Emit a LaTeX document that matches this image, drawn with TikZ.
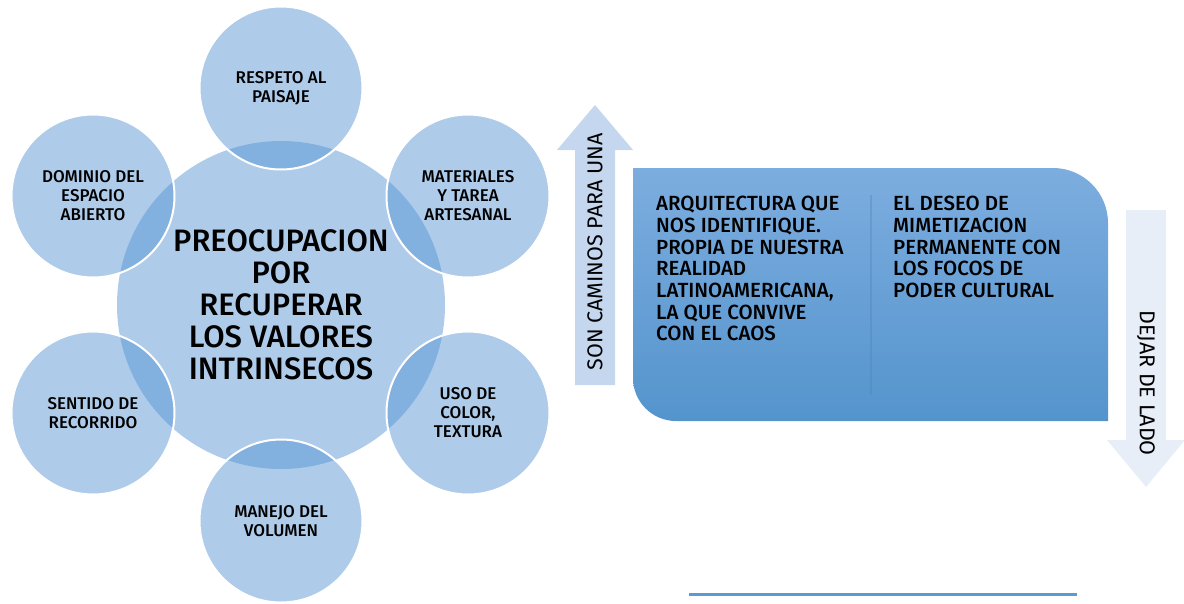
\documentclass[tikz,border=0pt]{standalone}
\usepackage{fontspec}
\setmainfont{Fira Sans}[UprightFont={* Medium}]
\newfontfamily\arrowfont{Fira Sans}
\usetikzlibrary{positioning}
\definecolor{petalblue}{RGB}{82,145,210}
\definecolor{uparrow}{RGB}{197,215,238}
\definecolor{downarrow}{RGB}{232,238,247}
\definecolor{boxtop}{RGB}{125,173,223}
\definecolor{boxmid}{RGB}{98,162,220}
\definecolor{boxbot}{RGB}{84,148,205}
\definecolor{rule}{RGB}{91,155,213}
\tikzset{
    hub/.style={circle, minimum size=328pt, inner sep=0pt, fill=petalblue, fill opacity=0.47, text opacity=1, align=center, font=\fontsize{31}{32}\selectfont},
    petal/.style={circle, minimum size=163pt, inner sep=0pt, fill=petalblue, fill opacity=0.47, text opacity=1, draw=white, line width=2pt, align=center, font=\fontsize{17}{19}\selectfont},
    boxtext/.style={anchor=north west, align=left, inner sep=0pt, font=\fontsize{20.5}{21.7}\selectfont},
    arrowtext/.style={inner sep=0pt, font=\arrowfont\fontsize{21.5}{22}\selectfont}
}
\begin{document}
\begin{tikzpicture}[x=1pt, y=-1pt]
    \useasboundingbox (0,0) rectangle (1184,603);
    % central circle and its six values
    \node[hub] (hub) at (281,305) {PREOCUPACION\\POR\\RECUPERAR\\LOS VALORES\\INTRINSECOS};
    \node[petal] (paisaje) at (281,88) {RESPETO AL\\PAISAJE};
    \node[petal] (materiales) at (468,196) {MATERIALES\\Y TAREA\\ARTESANAL};
    \node[petal] (color) at (468,413) {USO DE\\COLOR,\\TEXTURA};
    \node[petal] (volumen) at (281,521) {MANEJO DEL\\VOLUMEN};
    \node[petal] (recorrido) at (93,413) {SENTIDO DE\\RECORRIDO};
    \node[petal] (espacio) at (93,196) {DOMINIO DEL\\ESPACIO\\ABIERTO};
    % up arrow
    \fill[uparrow] (575,385) -- (575,150) -- (557,150) -- (595,105) -- (633,150) -- (615,150) -- (615,385) -- cycle;
    \node[arrowtext, rotate=90] (caminos) at (595,252) {SON CAMINOS PARA UNA};
    % box
    \shade[top color=boxtop, middle color=boxmid, bottom color=boxbot]
        (633,168) -- (1053,168) arc(-90:0:55) -- (1108,421) -- (676,421) arc(90:180:43) -- cycle;
    \draw[rule!85!black, line width=1.2pt, opacity=0.35] (871,195) -- (871,395);
    \node[boxtext] (arquitectura) at (656,196) {ARQUITECTURA QUE\\NOS IDENTIFIQUE.\\PROPIA DE NUESTRA\\REALIDAD\\LATINOAMERICANA,\\LA QUE CONVIVE\\CON EL CAOS};
    \node[boxtext] (deseo) at (893,196) {EL DESEO DE\\MIMETIZACION\\PERMANENTE CON\\LOS FOCOS DE\\PODER CULTURAL};
    % down arrow
    \fill[downarrow] (1126,210) -- (1126,440) -- (1107,440) -- (1146,487) -- (1185,440) -- (1166,440) -- (1166,210) -- cycle;
    \node[arrowtext, rotate=-90] (lado) at (1146,383) {DEJAR DE LADO};
    % bottom rule
    \draw[rule, line width=3pt] (689,594) -- (1077,594);
\end{tikzpicture}
\end{document}
